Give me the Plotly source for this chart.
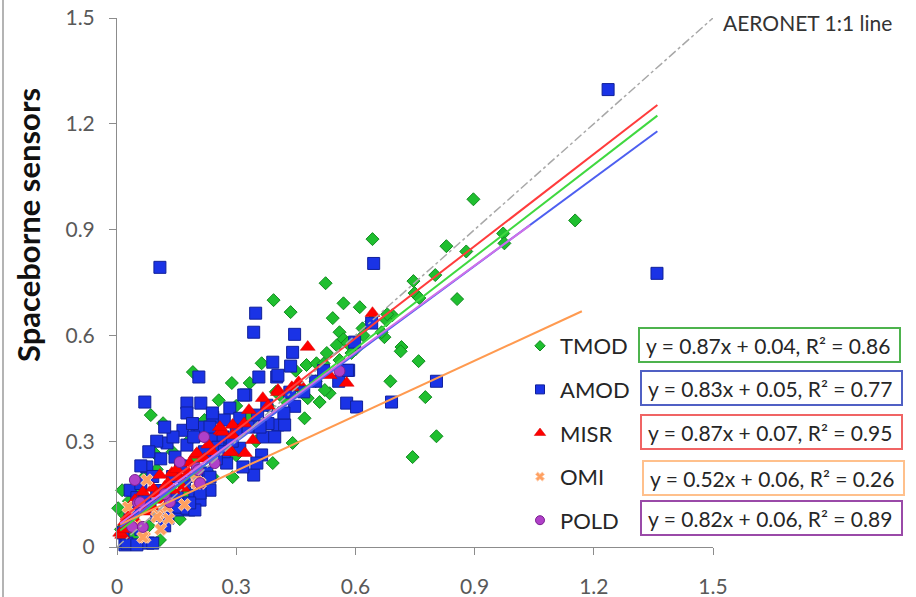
import plotly.graph_objects as go

# ---------------- data ----------------
TMOD_X = [1.153, 0.897, 0.829, 0.879, 0.972, 0.975, 0.801, 0.746, 0.749, 0.761, 0.856, 0.716, 0.673, 0.714,
          0.759, 0.688, 0.776, 0.804, 0.744, 0.535, 0.643, 0.525, 0.394, 0.437, 0.570, 0.611, 0.543, 0.560,
          0.693, 0.678, 0.666, 0.570, 0.580, 0.618, 0.364, 0.477, 0.502, 0.528, 0.553, 0.289, 0.334, 0.480,
          0.523, 0.510, 0.472, 0.442, 0.392, 0.291, 0.191, 0.085, 0.116, 0.256, 0.095, 0.158, 0.108, 0.013,
          0.003, 0.600, 0.620, 0.500, 0.450, 0.400, 0.300, 0.220, 0.180, 0.140, 0.100, 0.070, 0.050, 0.030,
          0.020, 0.010, 0.040, 0.080, 0.130, 0.170, 0.240, 0.300, 0.350, 0.260, 0.200, 0.330, 0.380, 0.420,
          0.460, 0.520, 0.560, 0.590, 0.680, 0.640]
TMOD_Y = [0.926, 0.986, 0.853, 0.838, 0.889, 0.861, 0.771, 0.754, 0.720, 0.706, 0.703, 0.567, 0.595, 0.555,
          0.527, 0.470, 0.425, 0.314, 0.255, 0.436, 0.873, 0.748, 0.700, 0.666, 0.691, 0.680, 0.649, 0.609,
          0.657, 0.643, 0.609, 0.589, 0.578, 0.620, 0.521, 0.516, 0.521, 0.550, 0.572, 0.465, 0.465, 0.422,
          0.445, 0.411, 0.365, 0.295, 0.238, 0.198, 0.496, 0.374, 0.351, 0.416, 0.266, 0.079, 0.020, 0.161,
          0.110, 0.560, 0.600, 0.470, 0.500, 0.440, 0.400, 0.360, 0.300, 0.270, 0.220, 0.200, 0.160, 0.130,
          0.090, 0.050, 0.030, 0.060, 0.120, 0.150, 0.200, 0.260, 0.300, 0.300, 0.250, 0.370, 0.400, 0.420,
          0.450, 0.520, 0.530, 0.550, 0.660, 0.640]

AMOD_X = [1.236, 1.359, 0.108, 0.646, 0.349, 0.344, 0.447, 0.442, 0.641, 0.598, 0.804, 0.691, 0.578, 0.603,
          0.583, 0.558, 0.392, 0.437, 0.357, 0.402, 0.206, 0.070, 0.176, 0.211, 0.176, 0.324, 0.284, 0.447,
          0.377, 0.309, 0.354, 0.405, 0.422, 0.367, 0.397, 0.364, 0.259, 0.126, 0.344, 0.075, 0.181, 0.151,
          0.020, 0.078, 0.244, 0.201, 0.176, 0.146, 0.276, 0.226, 0.033, 0.126, 0.234, 0.196, 0.209, 0.083,
          0.153, 0.176, 0.196, 0.128, 0.033, 0.025, 0.050, 0.090, 0.241, 0.209, 0.166, 0.141, 0.193, 0.234,
          0.267, 0.309, 0.254, 0.352, 0.317, 0.234, 0.209, 0.183, 0.151, 0.405, 0.319, 0.435, 0.580, 0.500,
          0.470, 0.520, 0.110, 0.090, 0.060, 0.050, 0.100, 0.140, 0.160, 0.270, 0.300, 0.330, 0.290, 0.120,
          0.060, 0.100, 0.040, 0.015, 0.070, 0.200, 0.250, 0.220, 0.170, 0.380, 0.420, 0.360, 0.270, 0.240,
          0.190, 0.120, 0.100, 0.080, 0.060]
AMOD_Y = [1.297, 0.776, 0.793, 0.804, 0.663, 0.609, 0.603, 0.552, 0.635, 0.581, 0.470, 0.411, 0.408, 0.397,
          0.501, 0.470, 0.524, 0.513, 0.482, 0.482, 0.482, 0.411, 0.408, 0.408, 0.380, 0.431, 0.394, 0.399,
          0.402, 0.365, 0.374, 0.346, 0.346, 0.312, 0.312, 0.261, 0.283, 0.295, 0.204, 0.227, 0.105, 0.105,
          0.006, 0.011, 0.312, 0.317, 0.289, 0.255, 0.238, 0.210, 0.161, 0.156, 0.161, 0.147, 0.133, 0.119,
          0.113, 0.110, 0.105, 0.082, 0.085, 0.011, 0.006, 0.011, 0.368, 0.340, 0.331, 0.312, 0.312, 0.340,
          0.312, 0.280, 0.283, 0.238, 0.227, 0.198, 0.153, 0.125, 0.142, 0.487, 0.431, 0.439, 0.501, 0.470,
          0.440, 0.500, 0.250, 0.200, 0.180, 0.140, 0.160, 0.200, 0.230, 0.270, 0.330, 0.340, 0.300, 0.060,
          0.050, 0.090, 0.100, 0.040, 0.130, 0.200, 0.250, 0.270, 0.180, 0.350, 0.380, 0.340, 0.360, 0.380,
          0.350, 0.340, 0.300, 0.270, 0.230]

MISR_X = [0.643, 0.480, 0.578, 0.535, 0.367, 0.405, 0.440, 0.457, 0.332, 0.342, 0.291, 0.261, 0.289, 0.322,
          0.198, 0.013, 0.266, 0.291, 0.201, 0.183, 0.108, 0.138, 0.158, 0.065, 0.090, 0.128, 0.166, 0.045,
          0.108, 0.020, 0.008, 0.405, 0.284, 0.259, 0.220, 0.240, 0.150, 0.120, 0.070, 0.030, 0.060, 0.100,
          0.180, 0.230, 0.050, 0.090, 0.320, 0.380, 0.020, 0.140]
MISR_Y = [0.663, 0.567, 0.465, 0.487, 0.422, 0.445, 0.453, 0.467, 0.388, 0.303, 0.346, 0.329, 0.269, 0.266,
          0.261, 0.034, 0.326, 0.317, 0.266, 0.238, 0.204, 0.210, 0.198, 0.156, 0.167, 0.181, 0.167, 0.133,
          0.133, 0.071, 0.040, 0.439, 0.269, 0.340, 0.250, 0.270, 0.220, 0.170, 0.100, 0.090, 0.120, 0.150,
          0.210, 0.290, 0.070, 0.110, 0.350, 0.400, 0.050, 0.160]

OMI_X = [0.075, 0.209, 0.201, 0.126, 0.103, 0.028, 0.070, 0.100, 0.065, 0.200, 0.130, 0.050, 0.170, 0.110]
OMI_Y = [0.190, 0.181, 0.181, 0.113, 0.091, 0.113, 0.028, 0.085, 0.028, 0.205, 0.080, 0.060, 0.120, 0.050]

POLD_X = [0.560, 0.219, 0.246, 0.158, 0.045, 0.201, 0.053, 0.038, 0.065, 0.204, 0.209, 0.133, 0.058, 0.120]
POLD_Y = [0.499, 0.312, 0.238, 0.241, 0.190, 0.224, 0.125, 0.057, 0.057, 0.218, 0.181, 0.127, 0.127, 0.150]

SERIES = ["TMOD", "AMOD", "MISR", "OMI", "POLD"]
SLOPES = [0.87, 0.83, 0.87, 0.52, 0.82]
INTERCEPTS = [0.04, 0.05, 0.07, 0.06, 0.06]
R2 = [0.86, 0.77, 0.95, 0.26, 0.89]
TREND_X0 = [0.008, 0.008, 0.008, 0.008, 0.008]
TREND_X1 = [1.36, 1.36, 1.36, 1.17, 1.04]
TICKS = [0, 0.3, 0.6, 0.9, 1.2, 1.5]
TICK_TEXT = ["0", "0.3", "0.6", "0.9", "1.2", "1.5"]

# ---------------- style ----------------
FONT = "Lato"
MARKERS = {
    "TMOD": dict(symbol="diamond", size=10, color="#1fbf2f", line=dict(color="#128a20", width=1)),
    "AMOD": dict(symbol="square", size=12, color="#1a33e6", line=dict(color="#10209a", width=1)),
    "MISR": dict(symbol="triangle-up", size=13, color="#ff0000", line=dict(color="#d00000", width=0.5)),
    "OMI": dict(symbol="x", size=11, color="#ffa060", line=dict(color="#ffd2b4", width=1)),
    "POLD": dict(symbol="circle", size=11, color="#b040c8", line=dict(color="#7a2090", width=1)),
}
LEGEND_SIZES = {"TMOD": 8, "AMOD": 9, "MISR": 10, "OMI": 8, "POLD": 9}
LINE_COLORS = ["#40d840", "#4d5ff0", "#ff3c3c", "#ff9a50", "#d070e8"]
BOX_COLORS = ["#4db34d", "#5060c4", "#f06464", "#ffc08c", "#9a4aa8"]
DATA = {"TMOD": (TMOD_X, TMOD_Y), "AMOD": (AMOD_X, AMOD_Y), "MISR": (MISR_X, MISR_Y),
        "OMI": (OMI_X, OMI_Y), "POLD": (POLD_X, POLD_Y)}

fig = go.Figure()
for name in SERIES:
    xs, ys = DATA[name]
    fig.add_trace(go.Scatter(x=xs, y=ys, mode="markers", name=name, legendgroup=name,
                             marker=MARKERS[name], cliponaxis=False, showlegend=False))

# trend lines from the fitted equations
for i, name in enumerate(SERIES):
    x0, x1 = TREND_X0[i], TREND_X1[i]
    fig.add_trace(go.Scatter(x=[x0, x1], y=[SLOPES[i] * x0 + INTERCEPTS[i], SLOPES[i] * x1 + INTERCEPTS[i]],
                             mode="lines", line=dict(color=LINE_COLORS[i], width=2),
                             showlegend=False, hoverinfo="skip"))

# 1:1 line
fig.add_trace(go.Scatter(x=[0, 1.5], y=[0, 1.5], mode="lines",
                         line=dict(color="#a8a8a8", width=1.5, dash="dashdot"),
                         showlegend=False, hoverinfo="skip"))

# legend entries (small symbols, like the original legend)
for name in SERIES:
    m = dict(MARKERS[name])
    m["size"] = LEGEND_SIZES[name]
    fig.add_trace(go.Scatter(x=[None], y=[None], mode="markers", name=name, legendgroup=name,
                             marker=m, showlegend=True))

L, R, T, B = 117, 203, 18, 50
W, H = 916, 597
PW, PH = W - L - R, H - T - B

def px(xp):
    return (xp - L) / PW

def py(yp):
    return (H - B - yp) / PH

axis_common = dict(range=[0, 1.5], showgrid=False, zeroline=False, showline=True,
                   linecolor="#8c8c8c", linewidth=1, ticks="outside", ticklen=7,
                   tickcolor="#8c8c8c", tickvals=TICKS, ticktext=TICK_TEXT, automargin=False,
                   tickfont=dict(family=FONT, size=21, color="#595959"))

fig.update_layout(
    width=W, height=H, autosize=False,
    margin=dict(l=L, r=R, t=T, b=B, pad=0, autoexpand=False),
    paper_bgcolor="white", plot_bgcolor="white",
    xaxis=dict(**axis_common, ticklabelstandoff=14),
    yaxis=dict(**axis_common, ticklabelstandoff=10),
    legend=dict(x=px(520), y=py(325), xanchor="left", yanchor="top",
                font=dict(family=FONT, size=22, color="#262626"),
                tracegroupgap=12, itemsizing="trace", bgcolor="rgba(0,0,0,0)"),
    showlegend=True,
)

# equation boxes
BOX_CY = [345, 388, 432, 478, 518]
BOX_X0 = [639, 641, 641, 643, 641]
for i, name in enumerate(SERIES):
    cy = BOX_CY[i]
    x0 = BOX_X0[i]
    fig.add_shape(type="rect", xref="paper", yref="paper",
                  x0=px(x0), x1=px(x0 + 261), y0=py(cy + 17), y1=py(cy - 17),
                  line=dict(color=BOX_COLORS[i], width=2), fillcolor="white", layer="above")
    fig.add_annotation(xref="paper", yref="paper", x=px(x0 + 129), y=py(cy),
                       xanchor="center", yanchor="middle", showarrow=False,
                       text=f"y = {SLOPES[i]:.2f}x + {INTERCEPTS[i]:.2f}, R² = {R2[i]:.2f}",
                       font=dict(family=FONT, size=21, color="#262626"))

# 1:1 label
fig.add_annotation(xref="paper", yref="paper", x=px(721), y=py(23), xanchor="left", yanchor="middle",
                   showarrow=False, text="AERONET 1:1 line",
                   font=dict(family=FONT, size=21, color="#333333"))

# y-axis title
fig.add_annotation(xref="paper", yref="paper", x=px(28), y=py(225), xanchor="center", yanchor="middle",
                   showarrow=False, textangle=-90, text="<b>Spaceborne sensors</b>",
                   font=dict(family=FONT, size=31, color="#111111"))

# left frame line of the picture
fig.add_shape(type="line", xref="paper", yref="paper", x0=px(3), x1=px(3), y0=py(H), y1=py(0),
              line=dict(color="#b4b4b4", width=2))

fig.write_html("out.html", config={"displayModeBar": False},
               post_script="document.body.style.margin='0';")
